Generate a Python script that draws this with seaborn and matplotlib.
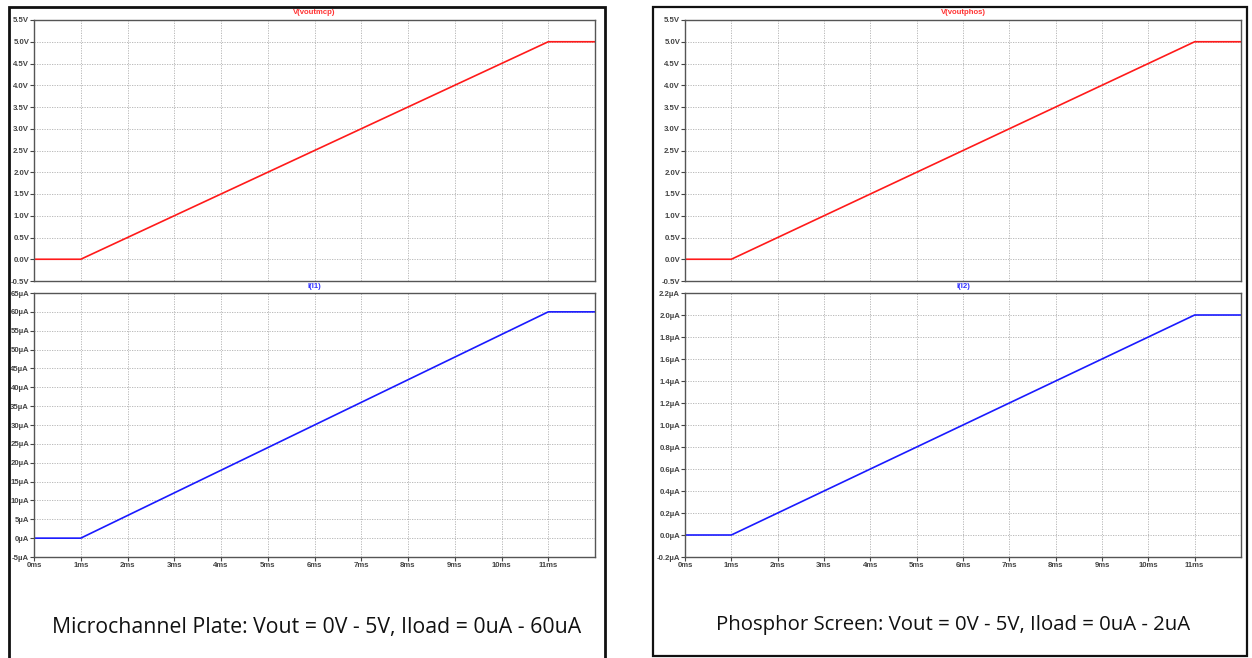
import numpy as np
import pandas as pd
import matplotlib
matplotlib.use("Agg")
import matplotlib.pyplot as plt
from matplotlib.patches import Rectangle
import seaborn as sns

# ---- data ----
time_ms = [0, 1, 11, 12]
v_mcp = [0.0, 0.0, 5.0, 5.0]          # V
i_mcp = [0.0, 0.0, 60.0, 60.0]        # uA
v_phos = [0.0, 0.0, 5.0, 5.0]         # V
i_phos = [0.0, 0.0, 2.0, 2.0]         # uA

x_ticks = list(range(0, 12))
x_labels = [f"{t}ms" for t in x_ticks]
v_ticks = [-0.5, 0.0, 0.5, 1.0, 1.5, 2.0, 2.5, 3.0, 3.5, 4.0, 4.5, 5.0, 5.5]
i_mcp_ticks = list(range(-5, 70, 5))
i_phos_ticks = [-0.2, 0.0, 0.2, 0.4, 0.6, 0.8, 1.0, 1.2, 1.4, 1.6, 1.8, 2.0, 2.2]

titles = ["V(voutmcp)", "I(I1)", "V(voutphos)", "I(I2)"]
captions = ["Microchannel Plate: Vout = 0V - 5V, Iload = 0uA - 60uA",
            "Phosphor Screen: Vout = 0V - 5V, Iload = 0uA - 2uA"]

sns.set_theme(style="white")
plt.rcParams['font.family'] = ['Liberation Sans', 'DejaVu Sans']

W, H = 1252, 658
fig = plt.figure(figsize=(W / 100, H / 100), dpi=100)
fig.patch.set_facecolor("white")


def px_axes(x0, y0, x1, y1):
    return fig.add_axes([x0 / W, 1 - y1 / H, (x1 - x0) / W, (y1 - y0) / H])


def style_ax(ax, yticks, ylabels, ylim, title, tcolor, show_x):
    ax.set_xlim(0, 12)
    ax.set_ylim(*ylim)
    ax.set_xticks(x_ticks)
    ax.set_xticklabels(x_labels if show_x else [])
    ax.set_yticks(yticks)
    ax.set_yticklabels(ylabels)
    ax.grid(True, color="#b0b0b0", linestyle=(0, (1.5, 1.5)), linewidth=0.6)
    for s in ax.spines.values():
        s.set_color("#555555")
        s.set_linewidth(1.0)
    ax.tick_params(axis="both", which="both", direction="out", length=3, width=0.8,
                   color="#444444", labelsize=5.6, labelcolor="#444444", pad=0.5,
                   bottom=show_x, left=True)
    for lab in ax.get_xticklabels() + ax.get_yticklabels():
        lab.set_fontweight("bold")
    ax.set_xlabel("")
    ax.set_ylabel("")
    ax.text(0.5, 1.0 + 7 / ((ax.get_position().height) * H), title, transform=ax.transAxes,
            ha="center", va="center", fontsize=5.6, color=tcolor, fontweight="bold")


def vfmt(v):
    return f"{v:.1f}V"


panels = [
    dict(x0=34, x1=595, v=v_mcp, i=i_mcp, iticks=i_mcp_ticks,
         ilabels=[f"{t}µA" for t in i_mcp_ticks], ilim=(-5, 65),
         tv=titles[0], ti=titles[1]),
    dict(x0=685, x1=1241, v=v_phos, i=i_phos, iticks=i_phos_ticks,
         ilabels=[f"{t:.1f}µA" for t in i_phos_ticks], ilim=(-0.2, 2.2),
         tv=titles[2], ti=titles[3]),
]

for p in panels:
    ax_v = px_axes(p["x0"], 20, p["x1"], 281)
    sns.lineplot(x=time_ms, y=p["v"], ax=ax_v, color="#ff1a1a", linewidth=1.2)
    style_ax(ax_v, v_ticks, [vfmt(v) for v in v_ticks], (-0.5, 5.5), p["tv"], "#ff3333", False)

    ax_i = px_axes(p["x0"], 293, p["x1"], 557)
    sns.lineplot(x=time_ms, y=p["i"], ax=ax_i, color="#1a1aff", linewidth=1.2)
    style_ax(ax_i, p["iticks"], p["ilabels"], p["ilim"], p["ti"], "#3333ff", True)

# screenshot frames
fig.add_artist(Rectangle((8.5 / W, -0.05), (605 - 8.5) / W, 1 - 7 / H + 0.05,
                         transform=fig.transFigure, fill=False, edgecolor="#111111", linewidth=2.0))
fig.add_artist(Rectangle((653 / W, 1 - 656 / H), (1247 - 653) / W, (656 - 7) / H,
                         transform=fig.transFigure, fill=False, edgecolor="#111111", linewidth=1.6))

fig.text(317 / W, 1 - 627 / H, captions[0], ha="center", va="center",
         fontsize=15.3, color="#111111", family=["Open Sans", "DejaVu Sans"])
fig.text(953 / W, 1 - 625 / H, captions[1], ha="center", va="center",
         fontsize=14.7, color="#111111", family=["Open Sans", "DejaVu Sans"])

fig.savefig("out.png", dpi=100, facecolor="white")
